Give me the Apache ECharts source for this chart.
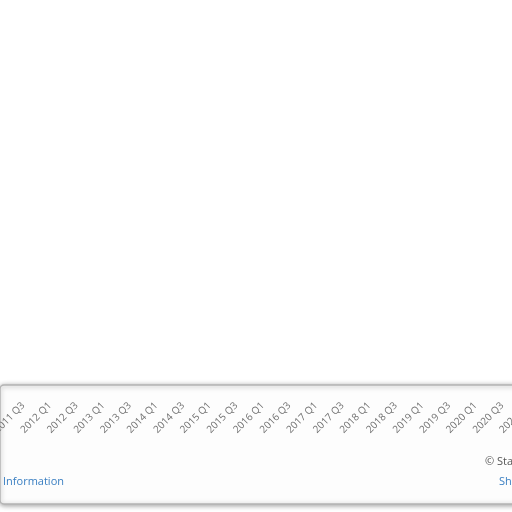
<!DOCTYPE html>
<html>
<head>
<meta charset="utf-8">
<script src="https://cdn.jsdelivr.net/npm/echarts@6/dist/echarts.min.js"></script>
<style>
  html, body { margin: 0; padding: 0; background: #fff; }
  #main { width: 512px; height: 512px; }
</style>
</head>
<body>
<div id="main"></div>
<script>
// quarters on the x axis (only the visible part of the original chart)
const quarters = [
  '2011 Q3', '2011 Q4',
  '2012 Q1', '2012 Q2', '2012 Q3', '2012 Q4',
  '2013 Q1', '2013 Q2', '2013 Q3', '2013 Q4',
  '2014 Q1', '2014 Q2', '2014 Q3', '2014 Q4',
  '2015 Q1', '2015 Q2', '2015 Q3', '2015 Q4',
  '2016 Q1', '2016 Q2', '2016 Q3', '2016 Q4',
  '2017 Q1', '2017 Q2', '2017 Q3', '2017 Q4',
  '2018 Q1', '2018 Q2', '2018 Q3', '2018 Q4',
  '2019 Q1', '2019 Q2', '2019 Q3', '2019 Q4',
  '2020 Q1', '2020 Q2', '2020 Q3', '2020 Q4',
  '2021 Q1'
];
const footerLeft = 'Information';
const footerCopy = '© Statista 2021';
const footerLink = 'Show source';

const chartDom = document.getElementById('main');
const myChart = echarts.init(chartDom);

const font = "'Open Sans', sans-serif";

const option = {
  backgroundColor: '#ffffff',
  animation: false,
  graphic: [
    {
      type: 'rect',
      z: 0,
      shape: { x: 0, y: 385, width: 540, height: 119, r: 4 },
      style: {
        fill: '#fdfdfd',
        stroke: '#b4b4b4',
        lineWidth: 1.5,
        shadowBlur: 5,
        shadowColor: 'rgba(0,0,0,0.35)',
        shadowOffsetY: 1
      }
    },
    {
      type: 'text', z: 5, left: 3, top: 476,
      style: { text: footerLeft, fill: '#3a7fc2', font: '11px ' + font }
    },
    {
      type: 'text', z: 5, left: 485, top: 456,
      style: { text: footerCopy, fill: '#555555', font: '11px ' + font }
    },
    {
      type: 'text', z: 5, left: 499, top: 476,
      style: { text: footerLink, fill: '#3a7fc2', font: '11px ' + font }
    }
  ],
  grid: {
    left: 23.4, width: 505.4, top: 20, bottom: 118,
    outerBoundsMode: 'none'
  },
  xAxis: {
    type: 'category',
    data: quarters,
    boundaryGap: false,
    axisLine: { show: false },
    axisTick: { show: false },
    axisLabel: {
      interval: 1,
      rotate: 45,
      margin: 10,
      color: '#707070',
      fontFamily: font,
      fontSize: 10
    },
    z: 10
  },
  yAxis: { type: 'value', show: false, min: 0, max: 1 },
  series: []
};

myChart.setOption(option);
</script>
</body>
</html>
